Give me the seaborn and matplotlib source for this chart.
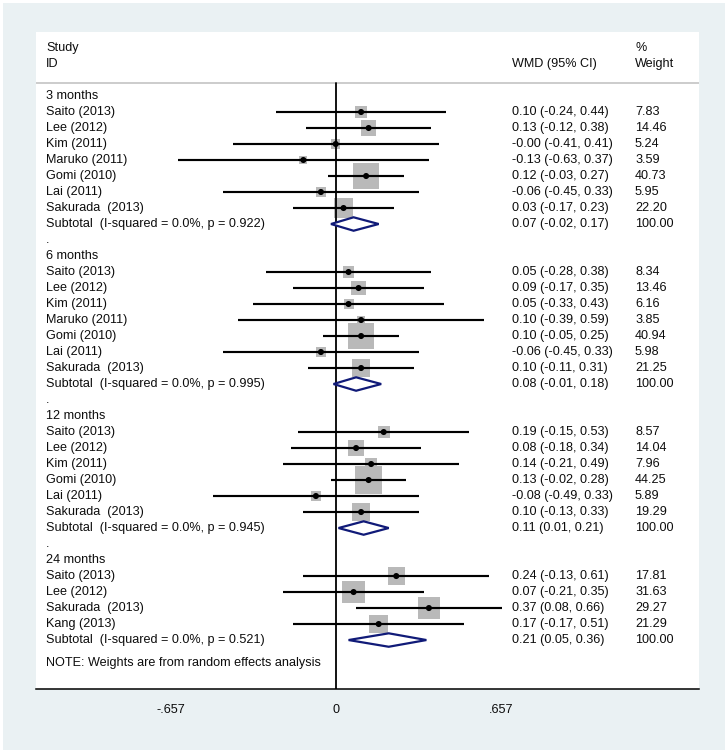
"""Forest plot of WMD by follow-up time (Stata metan style)."""

import matplotlib.pyplot as plt
import numpy as np
import pandas as pd
import seaborn as sns
from matplotlib.patches import Polygon, Rectangle

# ---- data ----
groups = ["3 months", "6 months", "12 months", "24 months"]

studies_3m = ["Saito (2013)", "Lee (2012)", "Kim (2011)", "Maruko (2011)",
              "Gomi (2010)", "Lai (2011)", "Sakurada  (2013)"]
est_3m = [0.10, 0.13, -0.001, -0.13, 0.12, -0.06, 0.03]
lo_3m = [-0.24, -0.12, -0.41, -0.63, -0.03, -0.45, -0.17]
hi_3m = [0.44, 0.38, 0.41, 0.37, 0.27, 0.33, 0.23]
wt_3m = [7.83, 14.46, 5.24, 3.59, 40.73, 5.95, 22.20]

studies_6m = ["Saito (2013)", "Lee (2012)", "Kim (2011)", "Maruko (2011)",
              "Gomi (2010)", "Lai (2011)", "Sakurada  (2013)"]
est_6m = [0.05, 0.09, 0.05, 0.10, 0.10, -0.06, 0.10]
lo_6m = [-0.28, -0.17, -0.33, -0.39, -0.05, -0.45, -0.11]
hi_6m = [0.38, 0.35, 0.43, 0.59, 0.25, 0.33, 0.31]
wt_6m = [8.34, 13.46, 6.16, 3.85, 40.94, 5.98, 21.25]

studies_12m = ["Saito (2013)", "Lee (2012)", "Kim (2011)", "Gomi (2010)",
               "Lai (2011)", "Sakurada  (2013)"]
est_12m = [0.19, 0.08, 0.14, 0.13, -0.08, 0.10]
lo_12m = [-0.15, -0.18, -0.21, -0.02, -0.49, -0.13]
hi_12m = [0.53, 0.34, 0.49, 0.28, 0.33, 0.33]
wt_12m = [8.57, 14.04, 7.96, 44.25, 5.89, 19.29]

studies_24m = ["Saito (2013)", "Lee (2012)", "Sakurada  (2013)", "Kang (2013)"]
est_24m = [0.24, 0.07, 0.37, 0.17]
lo_24m = [-0.13, -0.21, 0.08, -0.17]
hi_24m = [0.61, 0.35, 0.66, 0.51]
wt_24m = [17.81, 31.63, 29.27, 21.29]

sub_p = ["0.922", "0.995", "0.945", "0.521"]
sub_i2 = ["0.0%", "0.0%", "0.0%", "0.0%"]
sub_est = [0.07, 0.08, 0.11, 0.21]
sub_lo = [-0.02, -0.01, 0.01, 0.05]
sub_hi = [0.17, 0.18, 0.21, 0.36]

xticks = [-0.657, 0, 0.657]
xtick_labels = ["-.657", "0", ".657"]

group_data = [
    (studies_3m, est_3m, lo_3m, hi_3m, wt_3m),
    (studies_6m, est_6m, lo_6m, hi_6m, wt_6m),
    (studies_12m, est_12m, lo_12m, hi_12m, wt_12m),
    (studies_24m, est_24m, lo_24m, hi_24m, wt_24m),
]

# ---- build row layout ----
rows = []
subs = []
r = 0
for gi, (names, est, lo, hi, wt) in enumerate(group_data):
    if gi > 0:
        rows.append(dict(kind="dot", label=".", row=r))
        r += 1
    rows.append(dict(kind="head", label=groups[gi], row=r))
    r += 1
    for n, e, l, h, w in zip(names, est, lo, hi, wt):
        rows.append(dict(kind="study", label=n, row=r, est=e, lo=l, hi=h, weight=w))
        r += 1
    subs.append(dict(label=f"Subtotal  (I-squared = {sub_i2[gi]}, p = {sub_p[gi]})",
                     row=r, est=sub_est[gi], lo=sub_lo[gi], hi=sub_hi[gi], weight=100.0))
    r += 1

df = pd.DataFrame(rows)
studies = df[df["kind"] == "study"].copy()
subs_df = pd.DataFrame(subs)

# ---- figure ----
W, H = 728, 754
fig = plt.figure(figsize=(W / 100, H / 100), dpi=100, facecolor="white")
sns.set_style("white")
plt.rcParams["font.family"] = ["Liberation Sans", "DejaVu Sans"]

fig.patches.append(Rectangle((3 / W, 4 / H), 722 / W, 747 / H, transform=fig.transFigure,
                             facecolor="#eaf1f3", edgecolor="none", zorder=-1))

ax = fig.add_axes([36 / W, 65 / H, 663 / W, 657 / H])
ax.set_facecolor("white")

px_per_unit = 251.1
ax.set_xlim(-300 / px_per_unit, 363 / px_per_unit)
ax.set_ylim(37.06, -4.0)

FS = 9.1
TXT = "#0d0d0d"
x_lab = -290 / px_per_unit
x_ci = 176 / px_per_unit
x_wt = 299 / px_per_unit

# header
ax.text(x_lab, -3, "Study", fontsize=FS, va="center", ha="left", color=TXT)
ax.text(x_lab, -2, "ID", fontsize=FS, va="center", ha="left", color=TXT)
ax.text(x_ci, -2, "WMD (95% CI)", fontsize=FS, va="center", ha="left", color=TXT)
ax.text(x_wt, -3, "%", fontsize=FS, va="center", ha="left", color=TXT)
ax.text(x_wt, -2, "Weight", fontsize=FS, va="center", ha="left", color=TXT)
ax.axhline(-0.8, color="#c4c4c4", lw=1.2)

# null line
ax.plot([0, 0], [-0.8, 37.06], color="black", lw=1.3, zorder=2)

# weight boxes (side proportional to sqrt(weight))
sns.scatterplot(data=studies, x="est", y="row", size="weight", sizes=(0, 860),
                size_norm=(0, 100), marker="s", color="#b9b9b9", edgecolor="none",
                linewidth=0, legend=False, ax=ax, zorder=1)

# confidence intervals
ax.hlines(studies["row"], studies["lo"], studies["hi"], color="black", lw=1.55, zorder=3)

# point estimates
sns.scatterplot(data=studies, x="est", y="row", color="black", s=19, marker="o",
                edgecolor="none", linewidth=0, legend=False, ax=ax, zorder=4)

# subtotal diamonds
for _, s in subs_df.iterrows():
    d = Polygon([(s["lo"], s["row"]), (s["est"], s["row"] - 0.42),
                 (s["hi"], s["row"]), (s["est"], s["row"] + 0.42)],
                closed=True, facecolor="white", edgecolor="#101a78", lw=1.6, zorder=5)
    ax.add_patch(d)

# row texts
for _, rw in df.iterrows():
    ax.text(x_lab, rw["row"], rw["label"], fontsize=FS, va="center", ha="left", color=TXT)
    if rw["kind"] == "study":
        ax.text(x_ci, rw["row"], f"{rw['est']:.2f} ({rw['lo']:.2f}, {rw['hi']:.2f})",
                fontsize=FS, va="center", ha="left", color=TXT)
        ax.text(x_wt, rw["row"], f"{rw['weight']:.2f}", fontsize=FS, va="center",
                ha="left", color=TXT)
for _, s in subs_df.iterrows():
    ax.text(x_lab, s["row"], s["label"], fontsize=FS, va="center", ha="left", color=TXT)
    ax.text(x_ci, s["row"], f"{s['est']:.2f} ({s['lo']:.2f}, {s['hi']:.2f})",
            fontsize=FS, va="center", ha="left", color=TXT)
    ax.text(x_wt, s["row"], f"{s['weight']:.2f}", fontsize=FS, va="center",
            ha="left", color=TXT)

ax.text(x_lab, 35.44, "NOTE: Weights are from random effects analysis", fontsize=FS,
        va="center", ha="left", color=TXT)

# axis
for side in ["top", "right", "left"]:
    ax.spines[side].set_visible(False)
ax.spines["bottom"].set_color("black")
ax.spines["bottom"].set_linewidth(1.1)
ax.set_xticks(xticks)
ax.set_xticklabels(xtick_labels)
ax.set_yticks([])
ax.tick_params(axis="x", direction="out", length=6.5, width=1.0, pad=4.5,
               labelsize=FS, colors="black", labelcolor=TXT)
ax.set_xlabel("")
ax.set_ylabel("")

fig.savefig("out.png", dpi=100)
plt.close(fig)
